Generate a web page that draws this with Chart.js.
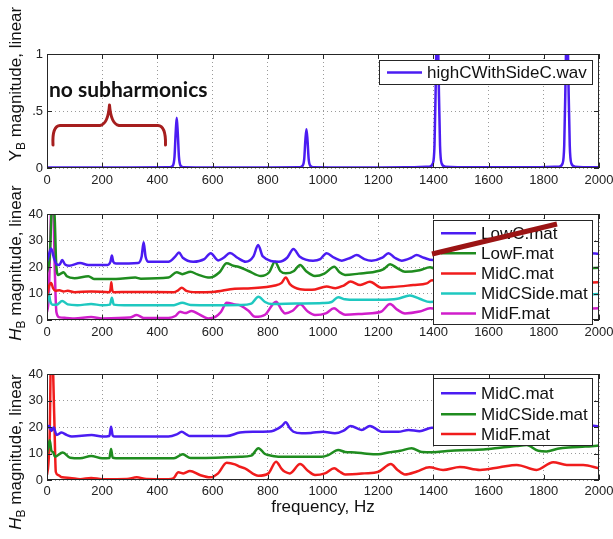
<!DOCTYPE html>
<html>
<head>
<meta charset="utf-8">
<script src="https://cdn.jsdelivr.net/npm/chart.js@4.4.0/dist/chart.umd.min.js"></script>
<style>
  html, body { margin: 0; padding: 0; background: #fff; }
  #wrap { position: relative; width: 613px; height: 539px; overflow: hidden; }
  canvas { position: absolute; left: 0; }
</style>
</head>
<body>
<div id="wrap">
  <canvas id="c1" width="640" height="192" style="top:0px"></canvas>
  <canvas id="c2" width="640" height="182" style="top:170px"></canvas>
  <canvas id="c3" width="640" height="199" style="top:340px"></canvas>
</div>
<script>
// ---- data: [frequency Hz, magnitude] pairs ----

const highCWithSideC = [[0,0.004],[300,0.004],[445,0.006],[456,0.02],[462,0.1],[466,0.3],[470,0.44],[474,0.3],[478,0.1],[484,0.02],[495,0.006],
  [600,0.004],[800,0.004],[915,0.006],[926,0.02],[932,0.08],[936,0.24],[940,0.34],[944,0.24],[948,0.08],[954,0.02],[965,0.006],
  [1100,0.004],[1300,0.006],[1385,0.012],[1398,0.04],[1404,0.2],[1409,0.8],[1414,1.5],[1419,0.8],[1424,0.2],[1430,0.04],[1443,0.012],
  [1550,0.006],[1750,0.006],[1855,0.012],[1868,0.04],[1874,0.2],[1879,0.8],[1884,1.5],[1889,0.8],[1894,0.2],[1900,0.04],[1913,0.012],[2000,0.006]];

// middle panel
const lowC = [[0,22],[8,25],[15,27],[25,23.5],[35,21],[45,20.8],[55,22.6],[65,21],[80,20.5],[120,21.5],[150,20.8],[220,20.8],[230,22],[235,24.3],[240,22],[250,21.3],
  [330,21.5],[343,24],[350,29.3],[357,24],[368,22],[440,22],[465,24],[478,25.5],[492,23.5],[530,22],[570,23],[593,25.2],[620,22.5],[640,23.5],[663,25.3],[690,23.5],
  [720,22],[748,24],[765,28.3],[782,24],[840,22],[870,23.5],[893,26.8],[915,24],[964,22.4],[990,23],[1013,25.2],[1040,23.5],[1068,22.4],[1100,23.5],[1122,24.5],
  [1150,23],[1176,22.4],[1215,23.5],[1237,25.2],[1260,23.5],[1285,22.4],[1320,23.5],[1339,24.5],[1365,23.5],[1397,22.6],[1430,23.5],[1460,24.8],[1490,23],
  [1530,22.5],[1570,24.5],[1600,23],[1640,22.5],[1680,24.8],[1710,23],[1750,22.8],[1790,24.5],[1820,23],[1860,22.8],[1900,24],[1960,25.2],[2000,25]];

const lowF = [[0,18],[10,24],[18,42],[27,40],[33,22],[40,17],[50,17.5],[60,18],[72,16.5],[100,15.8],[150,16.5],[170,15.5],[250,15.5],[320,16],[340,15.6],
  [440,16],[470,18],[490,17.3],[520,18.2],[545,17.2],[590,16],[625,18],[651,21.4],[675,20.5],[693,20.1],[730,18.5],[775,16.6],[805,18],[826,22],[845,18.5],
  [865,17.6],[895,18.5],[917,20.8],[940,18.3],[971,16.6],[1005,17.5],[1041,20.1],[1060,18],[1080,17],[1130,17.5],[1188,18.2],[1220,19.2],[1243,21],[1270,19.5],
  [1297,18.2],[1350,18.8],[1388,19.9],[1420,18.5],[1460,18.2],[1500,19.5],[1540,18.5],[1580,18.3],[1620,20],[1660,18.6],[1700,18.5],[1740,20],[1780,18.8],
  [1820,18.5],[1860,19.8],[1900,19],[1950,19.5],[2000,19.7]];

const midC = [[0,9],[8,13],[15,14],[22,12],[30,11],[45,11.2],[60,10.8],[75,11],[100,10.5],[160,10.8],[225,10.5],[230,11.5],[233,14.2],[236,11.5],[242,10.5],
  [300,10.6],[460,10.5],[475,11.2],[488,12.2],[505,11],[540,10.5],[600,10.6],[680,11.8],[740,12],[826,13],[850,14],[865,16],[880,13.5],[917,11.6],[960,11.4],
  [1013,12.6],[1045,12],[1075,13],[1100,14.5],[1135,13.2],[1170,14.4],[1212,12.2],[1260,12.5],[1327,13.2],[1376,13.8],[1395,15],[1440,13.8],[1500,14.2],
  [1560,13.6],[1620,14.6],[1680,13.8],[1740,14.4],[1800,14],[1860,14.8],[1920,14],[2000,14.2]];

const midCSide = [[0,6],[6,10],[12,7],[20,5.8],[35,5.8],[55,7.2],[75,5.9],[110,5.6],[160,6],[200,5.6],[228,5.8],[235,8.4],[242,5.8],[280,5.6],[460,5.6],
  [490,6.5],[520,5.7],[600,5.6],[700,5.7],[740,6.2],[766,8.8],[790,6.8],[815,6],[900,6.2],[1000,6.4],[1031,6.8],[1055,8.6],[1080,7.8],[1120,7.6],[1210,7.6],
  [1270,8],[1315,9.2],[1350,8],[1388,6.8],[1440,7.4],[1500,8],[1560,7.6],[1620,8.4],[1680,8],[1740,8.6],[1800,8.4],[1860,9],[1930,9.4],[2000,9.8]];

const midF = [[0,3],[6,8],[12,30],[16,45],[22,45],[28,20],[34,3],[45,1],[70,0.8],[100,0.6],[160,1.1],[200,0.6],[300,0.9],[325,1.9],[350,0.8],[440,0.8],
  [465,1.5],[482,3.1],[500,2.6],[524,3.4],[550,2.2],[584,0.6],[610,1.2],[630,3],[651,6.5],[680,5.9],[700,5.5],[730,3.5],[754,1.2],[790,2],[830,6.9],[850,3.8],
  [862,2.5],[890,3.5],[917,5.9],[945,3.2],[971,1.9],[1010,2.5],[1040,4.4],[1060,3],[1080,2],[1150,2.4],[1210,3.1],[1243,6],[1270,3.8],[1297,2.5],[1350,3.2],
  [1388,4.4],[1440,3.4],[1500,4.6],[1560,3.6],[1620,4.8],[1680,3.8],[1740,5],[1800,4],[1860,5.2],[1930,4.2],[2000,4.4]];

// bottom panel
const midC3 = [[0,19.5],[8,20.5],[16,18.5],[24,19.8],[35,17],[53,17.9],[71,17],[90,16.4],[162,17],[200,16.4],[226,16.6],[232,20.1],[238,16.8],[246,16.4],
  [440,16.4],[470,17.2],[488,18.2],[505,17.2],[518,16.6],[651,16.6],[699,17.9],[754,18.2],[814,18.4],[838,19.5],[852,20.5],[865,21.8],[880,19.5],[893,18.2],
  [923,17.6],[960,17.8],[1000,18.2],[1043,17.6],[1075,18.6],[1100,20.4],[1140,18.9],[1170,20.4],[1213,18.2],[1273,18.2],[1310,18.9],[1350,18.4],[1394,19.7],
  [1440,19.5],[1500,20.2],[1560,19.6],[1620,20.5],[1680,19.8],[1740,20.2],[1800,20.6],[1860,19.9],[1920,20.4],[1980,20.5],[2000,20.2]];

const midCSide3 = [[0,10.1],[5,12.6],[10,15],[16,11],[22,10.5],[29,8.8],[57,10.4],[84,8.4],[120,8.2],[160,9.1],[200,8.2],[226,8.3],[232,11.7],[238,8.4],[250,8.2],
  [460,8.2],[492,9.7],[520,8.3],[700,8.8],[740,9.2],[766,12],[790,9.8],[802,9.4],[838,8.8],[995,8.8],[1019,9.4],[1055,11.3],[1080,10.6],[1116,10.4],[1159,9.9],
  [1201,9.7],[1237,10.4],[1280,11],[1321,12],[1358,10.6],[1400,10.5],[1450,10.9],[1500,11.2],[1560,11.4],[1600,11.7],[1641,12.2],[1700,12.8],[1738,13.2],
  [1780,11],[1810,10.8],[1850,11.8],[1889,12.3],[1950,12.6],[2000,13]];

const midF3 = [[0,1.9],[5,6],[10,18],[14,45],[20,45],[26,25],[32,3],[40,1.9],[55,1],[83,0.8],[120,0.3],[160,0.8],[200,0.3],[290,0.4],[325,1],[360,0.4],[440,0.3],
  [458,0.6],[476,2.9],[494,2.5],[518,3.4],[554,1.9],[591,1],[620,2.5],[651,6.5],[681,5.9],[699,5],[717,4.4],[766,1.6],[802,2.5],[830,6.9],[850,4.2],[862,3.1],
  [880,2.5],[917,6],[945,3.5],[971,1.9],[1007,2.5],[1041,4.4],[1060,3.2],[1080,2.1],[1150,2.5],[1201,3.1],[1246,6],[1270,3.8],[1297,2.1],[1340,3.2],[1385,4.8],
  [1435,3.8],[1496,4.9],[1569,3.8],[1640,4.8],[1702,5.7],[1774,3.8],[1834,6.7],[1883,5.7],[1943,5.7],[2000,4.4]];

const xTicksStep = 200;
const FAMILY = '"Liberation Sans", Arial, Helvetica, sans-serif';
const COLORS = { blue: '#4b1cf2', green: '#1f8c1f', red: '#f01c1c', cyan: '#1fc8c0', magenta: '#d01ecb' };

Chart.defaults.font.family = FAMILY;

function pts(pairs) { return pairs.map(p => ({ x: p[0], y: p[1] })); }
function series(label, pairs, color) {
  return { label, data: pts(pairs), borderColor: color, backgroundColor: color, borderWidth: 2.5,
           pointRadius: 0, cubicInterpolationMode: 'monotone', fill: false };
}

// MATLAB-style box with inward tick marks
const framePlugin = {
  id: 'matlabFrame',
  afterDatasetsDraw(chart) {
    const { ctx, chartArea: a, scales } = chart;
    ctx.save();
    ctx.strokeStyle = '#262626';
    ctx.lineWidth = 1;
    ctx.strokeRect(Math.round(a.left) + 0.5, Math.round(a.top) + 0.5, Math.round(a.width) - 1, Math.round(a.height) - 1);
    ctx.beginPath();
    scales.x.ticks.forEach(t => {
      const px = Math.round(scales.x.getPixelForValue(t.value)) + 0.5;
      ctx.moveTo(px, a.bottom); ctx.lineTo(px, a.bottom - 5);
      ctx.moveTo(px, a.top); ctx.lineTo(px, a.top + 5);
    });
    scales.y.ticks.forEach(t => {
      const py = Math.round(scales.y.getPixelForValue(t.value)) + 0.5;
      ctx.moveTo(a.left, py); ctx.lineTo(a.left + 5, py);
      ctx.moveTo(a.right, py); ctx.lineTo(a.right - 5, py);
    });
    ctx.stroke();
    ctx.restore();
  }
};

function axisLabel(main, italic, cx, cy) {
  return {
    id: 'axisLabel',
    afterDraw(chart) {
      const ctx = chart.ctx;
      const fMain = (italic ? 'italic ' : '') + '17px ' + FAMILY;
      const fRest = '17px ' + FAMILY;
      const fSub = '12px ' + FAMILY;
      const rest = ' magnitude, linear';
      ctx.save();
      ctx.translate(cx, cy);
      ctx.rotate(-Math.PI / 2);
      ctx.font = fMain; const w1 = ctx.measureText(main).width;
      ctx.font = fSub; const w2 = ctx.measureText('B').width;
      ctx.font = fRest; const w3 = ctx.measureText(rest).width;
      let x = -(w1 + w2 + w3) / 2;
      ctx.fillStyle = '#111';
      ctx.textBaseline = 'alphabetic';
      ctx.font = fMain; ctx.fillText(main, x, 6); x += w1;
      ctx.font = fSub; ctx.fillText('B', x, 10); x += w2;
      ctx.font = fRest; ctx.fillText(rest, x, 6);
      ctx.restore();
    }
  };
}

function legendBox(box, rows) {
  return {
    id: 'legendBox',
    afterDraw(chart) {
      const ctx = chart.ctx;
      ctx.save();
      ctx.fillStyle = '#fff';
      ctx.fillRect(box.x, box.y, box.w, box.h);
      ctx.strokeStyle = '#262626';
      ctx.lineWidth = 1;
      ctx.strokeRect(box.x + 0.5, box.y + 0.5, box.w - 1, box.h - 1);
      ctx.font = '17px ' + FAMILY;
      ctx.textBaseline = 'middle';
      chart.data.datasets.forEach((ds, i) => {
        const y = rows[i];
        ctx.strokeStyle = ds.borderColor;
        ctx.lineWidth = 2.5;
        ctx.beginPath(); ctx.moveTo(box.x + 8, y); ctx.lineTo(box.x + 43, y); ctx.stroke();
        ctx.fillStyle = '#111';
        ctx.fillText(ds.label, box.x + 48, y + 1);
      });
      ctx.restore();
    }
  };
}

function makeOptions(p) {
  const gridLine = { color: '#9a9a9a', lineWidth: 1, drawTicks: false };
  const border = { display: false, dash: [1, 3] };
  const tickFont = { size: 13, family: FAMILY };
  return {
    responsive: false,
    animation: false,
    layout: { padding: { left: 0, right: 41, top: p.top, bottom: 0 } },
    plugins: { legend: { display: false }, tooltip: { enabled: false } },
    scales: {
      x: {
        type: 'linear', min: 0, max: 2000,
        ticks: { stepSize: xTicksStep, autoSkip: false, maxRotation: 0, padding: p.xPad, color: '#222', font: tickFont,
                 callback: v => String(v) },
        grid: gridLine, border: border,
        title: p.xTitle
          ? { display: true, text: p.xTitle, color: '#111', font: { size: 17, family: FAMILY }, padding: { top: 0, bottom: 21 } }
          : { display: false },
        afterFit: s => { s.height = p.xHeight; }
      },
      y: {
        type: 'linear', min: 0, max: p.yMax,
        ticks: { stepSize: p.yStep, padding: 4, color: '#222', font: tickFont, callback: p.yFmt || (v => String(v)) },
        grid: gridLine, border: border,
        afterFit: s => { s.width = 47; }
      }
    }
  };
}

Chart.register(framePlugin);

// top panel
new Chart(document.getElementById('c1'), {
  type: 'line',
  data: { datasets: [series('highCWithSideC.wav', highCWithSideC, COLORS.blue)] },
  options: makeOptions({ top: 54, xHeight: 24, xPad: 5, yMax: 1, yStep: 0.5,
    yFmt: v => (v === 0.5 ? '.5' : String(v)) }),
  plugins: [
    axisLabel('Y', false, 15, 84),
    legendBox({ x: 379, y: 60, w: 214, h: 25 }, [72.5]),
    {
      id: 'subharmonicNote',
      afterDraw(chart) {
        const ctx = chart.ctx;
        ctx.save();
        ctx.fillStyle = '#111';
        ctx.font = 'bold 21px Lato, "Open Sans", sans-serif';
        ctx.textBaseline = 'alphabetic';
        ctx.fillText('no subharmonics', 49, 97, 176);
        ctx.strokeStyle = '#a61e1e';
        ctx.lineWidth = 3;
        ctx.lineJoin = 'round';
        ctx.lineCap = 'round';
        ctx.beginPath();
        ctx.moveTo(53, 145);
        ctx.quadraticCurveTo(52, 126, 60, 125.5);
        ctx.lineTo(100, 125.5);
        ctx.quadraticCurveTo(108, 124, 109.5, 105);
        ctx.quadraticCurveTo(111, 124, 119, 125.5);
        ctx.lineTo(158, 125.5);
        ctx.quadraticCurveTo(166, 126, 165.5, 145);
        ctx.stroke();
        ctx.restore();
      }
    }
  ]
});

// middle panel (canvas top at 170)
new Chart(document.getElementById('c2'), {
  type: 'line',
  data: { datasets: [
    series('LowC.mat', lowC, COLORS.blue),
    series('LowF.mat', lowF, COLORS.green),
    series('MidC.mat', midC, COLORS.red),
    series('MidCSide.mat', midCSide, COLORS.cyan),
    series('MidF.mat', midF, COLORS.magenta)
  ] },
  options: makeOptions({ top: 44, xHeight: 32, xPad: 5, yMax: 40, yStep: 10 }),
  plugins: [
    axisLabel('H', true, 15, 93),
    legendBox({ x: 433, y: 50, w: 160, h: 105 }, [63.3, 83.3, 103.5, 123.5, 143.5]),
    {
      id: 'strikeLine',
      afterDraw(chart) {
        const ctx = chart.ctx;
        ctx.save();
        ctx.strokeStyle = '#9b1414';
        ctx.lineWidth = 5;
        ctx.beginPath();
        ctx.moveTo(432, 84);
        ctx.lineTo(557, 54);
        ctx.stroke();
        ctx.restore();
      }
    }
  ]
});

// bottom panel (canvas top at 340)
new Chart(document.getElementById('c3'), {
  type: 'line',
  data: { datasets: [
    series('MidC.mat', midC3, COLORS.blue),
    series('MidCSide.mat', midCSide3, COLORS.green),
    series('MidF.mat', midF3, COLORS.red)
  ] },
  options: makeOptions({ top: 34, xHeight: 59, xPad: 4, yMax: 40, yStep: 10, xTitle: 'frequency, Hz' }),
  plugins: [
    axisLabel('H', true, 15, 112),
    legendBox({ x: 433, y: 38, w: 160, h: 68 }, [53.3, 74.3, 94])
  ]
});
</script>
</body>
</html>
